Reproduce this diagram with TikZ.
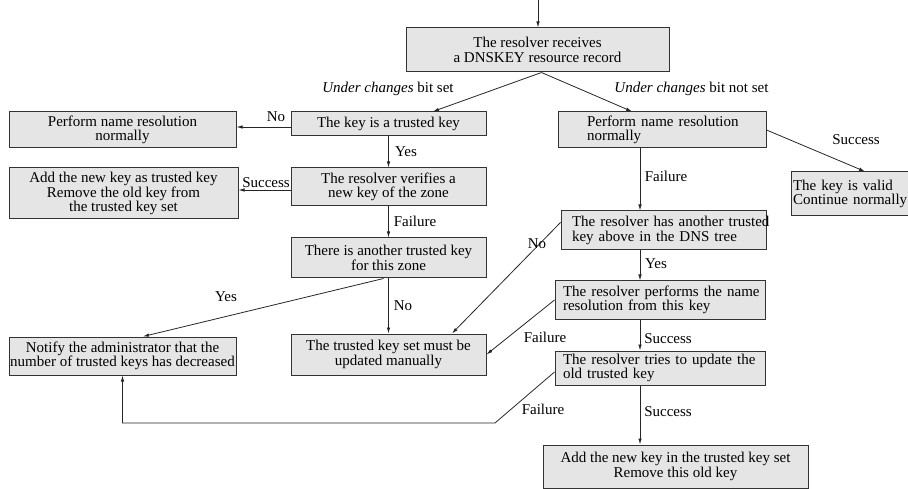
\documentclass[tikz,border=0pt]{standalone}
\usepackage{fontspec}
\setmainfont{Liberation Serif}
\usetikzlibrary{arrows.meta}

\begin{document}
\begin{tikzpicture}[x=1pt,y=-1pt,
  box/.style={draw=black!80,fill=black!10,line width=1pt,inner sep=0pt,font=\fontsize{15}{14.5}\selectfont},
  lbl/.style={inner sep=0pt,font=\fontsize{15}{14.5}\selectfont},
  arr/.style={-{Latex[length=6pt,width=3.5pt]},draw=black!85,line width=0.8pt}]
\useasboundingbox (0,0) rectangle (908,489);

% Incoming record
\coordinate (in) at (538,0);
\node[box,minimum width=263pt,minimum height=44pt,align=center] (recv) at (537.5,50) {The resolver receives\\a DNSKEY resource record};
\draw[arr] (in) -- (recv.north -| in);

% Left branch (bit set)
\node[box,minimum width=195pt,minimum height=24pt,align=center] (trusted) at (388.5,124) {The key is a trusted key};
\node[box,minimum width=227pt,minimum height=36pt,align=center] (normL) at (122.5,130) {Perform name resolution\\normally};
\node[box,minimum width=195pt,minimum height=38pt,align=center] (verify) at (388.5,187) {The resolver verifies a\\new key of the zone};
\node[box,minimum width=229pt,minimum height=51pt,align=center] (addL) at (123.5,193.5) {Add the new key as trusted key\\Remove the old key from\\the trusted key set};
\node[box,minimum width=195pt,minimum height=40pt,align=center] (another) at (388.5,258) {There is another trusted key\\for this zone};
\node[box,minimum width=227pt,minimum height=38pt,align=center] (notify) at (122.5,356) {Notify the administrator that the\\number of trusted keys has decreased};
\node[box,minimum width=195pt,minimum height=41pt,align=center] (manual) at (388.5,354.5) {The trusted key set must be\\updated manually};

% Right branch (bit not set)
\node[box,minimum width=208pt,minimum height=36pt,text width=150pt,align=left] (normR) at (662,130) {\mbox{Perform name resolution}\\normally};
\node[box,minimum width=118pt,minimum height=44pt,text width=114pt,align=left] (valid) at (850,194) {\mbox{The key is valid}\\\mbox{Continue normally}};
\node[box,minimum width=205pt,minimum height=39pt,text width=183pt,align=left] (hasAbove) at (663.5,230.5) {\mbox{The resolver has another trusted}\\\mbox{key above in the DNS tree}};
\node[box,minimum width=210pt,minimum height=38pt,text width=194pt,align=left] (performs) at (660,300) {\mbox{The resolver performs the name}\\\mbox{resolution from this key}};
\node[box,minimum width=210pt,minimum height=34pt,text width=194pt,align=left] (tries) at (660,368) {\mbox{The resolver tries to update the}\\\mbox{old trusted key}};
\node[box,minimum width=265pt,minimum height=43pt,align=center] (addR) at (675.5,466.5) {Add the new key in the trusted key set\\Remove this old key};

% Connectors
\draw[arr] ([xshift=4pt]recv.south) -- ([xshift=44.5pt]trusted.north);
\draw[arr] ([xshift=4pt]recv.south) -- ([xshift=-30pt]normR.north);
\coordinate (tw) at ([yshift=-3pt]trusted.west);
\draw[arr] (tw) -- (tw -| normL.east);
\draw[arr] (trusted) -- (verify);
\coordinate (vw) at ([yshift=-3pt]verify.west);
\draw[arr] (vw) -- (vw -| addL.east);
\draw[arr] (verify) -- (another);
\draw[arr] (another) -- (manual);
\draw[arr] ([xshift=-5pt]another.south) -- ([xshift=20.5pt]notify.north);
\draw[arr] (normR.east) -- ([xshift=15pt]valid.north);
\coordinate (nf) at ([xshift=-22pt]normR.south);
\draw[arr] (nf) -- (nf |- hasAbove.north);
\draw[arr] ([yshift=8pt]hasAbove.west) -- ([xshift=63.5pt]manual.north);
\coordinate (hy) at ([xshift=-23.5pt]hasAbove.south);
\draw[arr] (hy) -- (hy |- performs.north);
\draw[arr] (performs.west) -- (manual.east);
\coordinate (ps) at ([xshift=-20pt]performs.south);
\draw[arr] (ps) -- (ps |- tries.north);
\coordinate (trw) at ([yshift=-4pt]tries.west);
\coordinate (bend) at (495,423);
\draw[arr] (trw) -- (bend) -- (bend -| notify.south) -- (notify.south);
\coordinate (ts) at ([xshift=-20pt]tries.south);
\draw[arr] (ts) -- (ts |- addR.north);

% Connector labels
\node[lbl] (lbSet) at (388,89) {\textit{Under changes} bit set};
\node[lbl] (lbNotSet) at (691.5,89) {\textit{Under changes} bit not set};
\node[lbl] (lbNo1) at (276,117) {No};
\node[lbl] (lbYes1) at (406,152) {Yes};
\node[lbl] (lbSucc1) at (266,183) {Success};
\node[lbl] (lbFail1) at (415,221) {Failure};
\node[lbl] (lbYes2) at (226,297) {Yes};
\node[lbl] (lbNo2) at (403,306) {No};
\node[lbl] (lbSucc2) at (856,140) {Success};
\node[lbl] (lbFail2) at (666,176) {Failure};
\node[lbl] (lbNo3) at (537,244) {No};
\node[lbl] (lbYes3) at (656,264) {Yes};
\node[lbl] (lbFail3) at (545,337) {Failure};
\node[lbl] (lbSucc3) at (668,339) {Success};
\node[lbl] (lbFail4) at (543,409) {Failure};
\node[lbl] (lbSucc4) at (668,412) {Success};

\end{tikzpicture}
\end{document}
